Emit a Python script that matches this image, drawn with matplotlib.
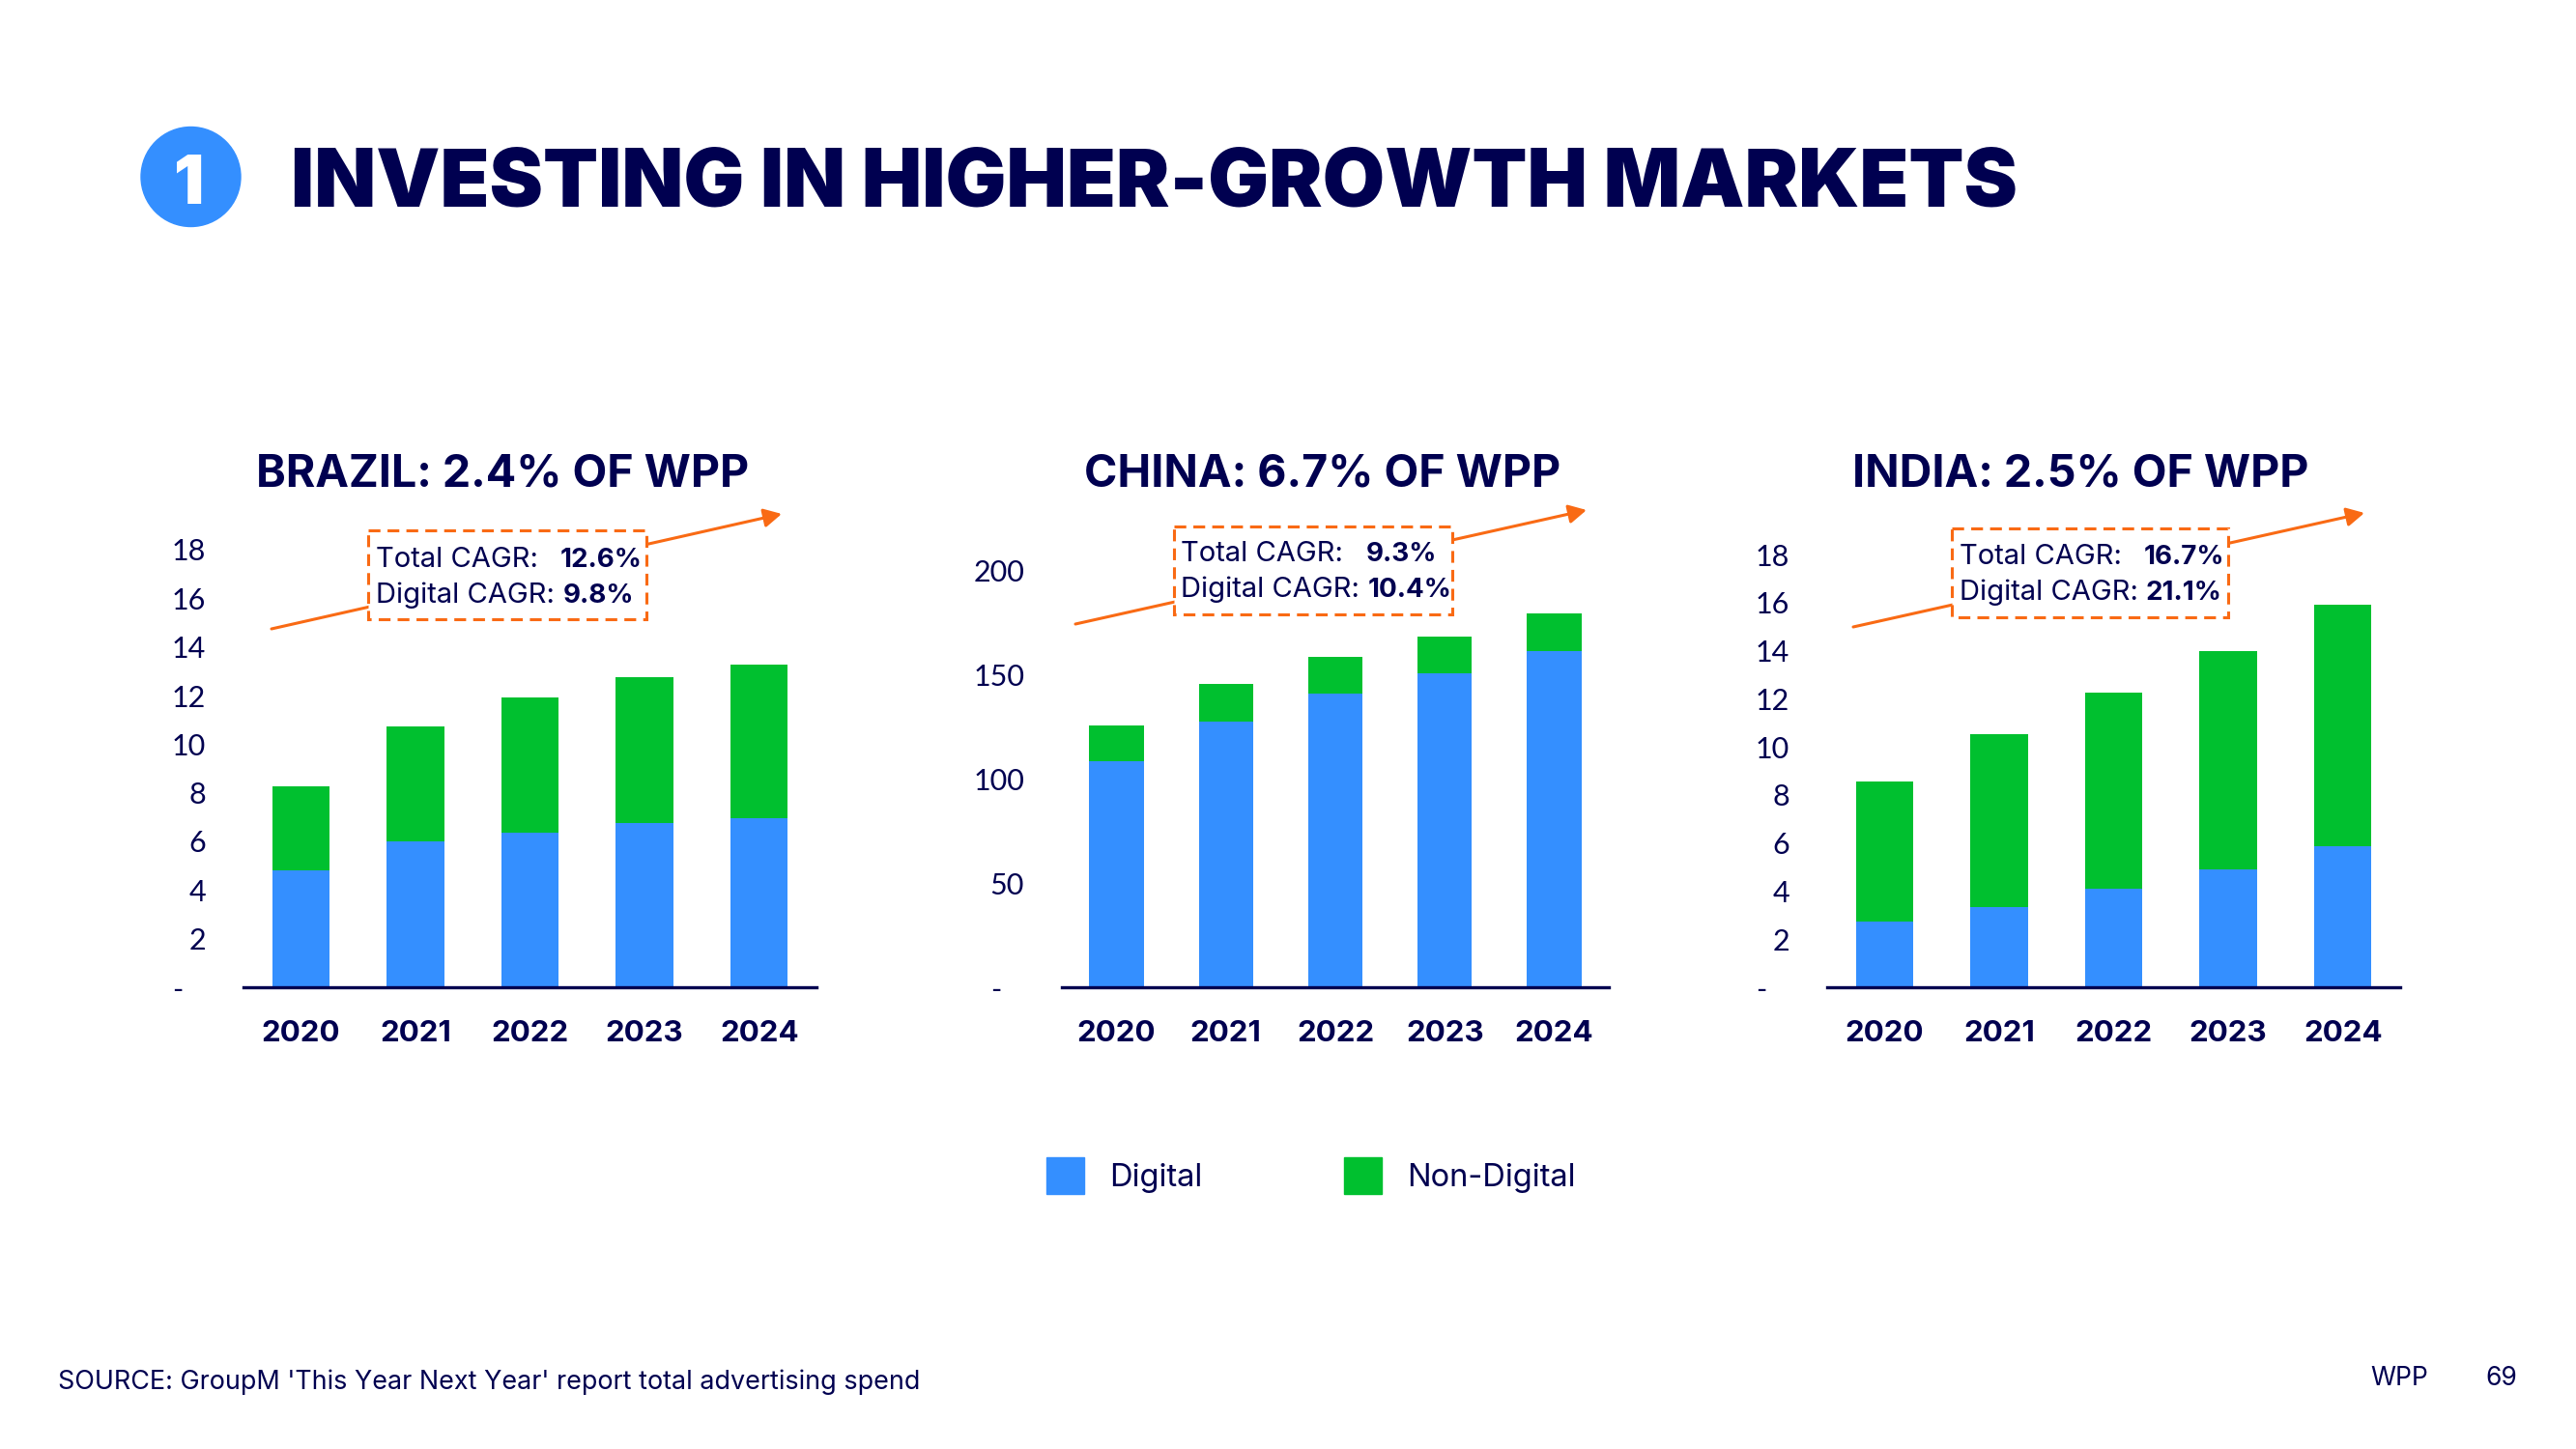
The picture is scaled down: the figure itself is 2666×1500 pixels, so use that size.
import matplotlib
matplotlib.use('Agg')
import matplotlib.pyplot as plt
from matplotlib.patches import Circle, Rectangle, Patch

plt.rcParams['font.family'] = ['Inter', 'DejaVu Sans']

NAVY = '#000050'
BLUE = '#348FFF'
GREEN = '#00C02F'
ORANGE = '#F96A14'

W, H = 2666, 1500

years = ['2020', '2021', '2022', '2023', '2024']

# values
brazil_digital = [4.8, 6.0, 6.35, 6.74, 6.97]
brazil_total = [8.26, 10.74, 11.93, 12.76, 13.28]
china_digital = [108.5, 127.8, 141, 150.6, 161.7]
china_total = [125.8, 145.6, 158.9, 168.5, 179.6]
india_digital = [2.72, 3.33, 4.08, 4.89, 5.86]
india_total = [8.55, 10.54, 12.25, 13.98, 15.93]

brazil_ticks = [0, 2, 4, 6, 8, 10, 12, 14, 16, 18]
china_ticks = [0, 50, 100, 150, 200]
india_ticks = [0, 2, 4, 6, 8, 10, 12, 14, 16, 18]

fig = plt.figure(figsize=(W / 100, H / 100), dpi=100, facecolor='white')

# overlay in pixel coordinates for slide furniture
bg = fig.add_axes([0, 0, 1, 1])
bg.set_xlim(0, W)
bg.set_ylim(H, 0)
bg.axis('off')


def make_chart(left, right, top, digital, total, ticks):
    bottom = 1022
    ax = fig.add_axes([left / W, 1 - bottom / H, (right - left) / W, (bottom - top) / H])
    x = range(len(years))
    other = [t - d for t, d in zip(total, digital)]
    ax.bar(x, digital, width=0.5, color=BLUE)
    ax.bar(x, other, width=0.5, bottom=digital, color=GREEN)
    ax.set_xlim(-0.5, 4.5)
    ax.set_ylim(0, ticks[-1])
    ax.patch.set_alpha(0)
    for s in ['top', 'left', 'right']:
        ax.spines[s].set_visible(False)
    ax.spines['bottom'].set_color(NAVY)
    ax.spines['bottom'].set_linewidth(2.4)
    ax.set_xticks(list(x), years, fontsize=22.5, fontweight='bold', color=NAVY)
    # the axis digits sit closer to Lato than Inter
    ax.set_yticks(ticks, ['-   '] + [str(t) for t in ticks[1:]], fontsize=22, color=NAVY, family=['Lato', 'DejaVu Sans'])
    ax.tick_params(axis='both', length=0)
    ax.tick_params(axis='x', pad=24.5)
    ax.tick_params(axis='y', pad=28)
    return ax


make_chart(252, 845, 569, brazil_digital, brazil_total, brazil_ticks)
make_chart(1099, 1665, 591, china_digital, china_total, china_ticks)
make_chart(1891, 2484, 574, india_digital, india_total, india_ticks)


def cagr_box(arrow, box, text_x, rows):
    bg.annotate('', xy=arrow[1], xytext=arrow[0],
                arrowprops=dict(arrowstyle='-|>,head_length=0.85,head_width=0.45', color=ORANGE,
                                lw=2.2, shrinkA=0, shrinkB=0, mutation_scale=13))
    x0, y0, x1, y1 = box
    bg.add_patch(Rectangle((x0, y0), x1 - x0, y1 - y0, facecolor='white', edgecolor=ORANGE,
                           lw=2.2, linestyle=(0, (4, 2.4)), zorder=5))
    for (label, value, bx, base) in rows:
        bg.text(text_x, base, label, fontsize=21, color=NAVY, va='baseline', zorder=6)
        bg.text(bx, base, value, fontsize=20, color=NAVY, fontweight='bold', va='baseline', zorder=6)


cagr_box(((281, 651), (809, 532)), (381, 549, 669, 641), 389,
         [('Total CAGR:', '12.6%', 580, 587), ('Digital CAGR:', '9.8%', 583, 624)])
cagr_box(((1113, 646), (1642, 528)), (1215, 545, 1503, 636), 1222,
         [('Total CAGR:', '9.3%', 1414, 581), ('Digital CAGR:', '10.4%', 1416, 618)])
cagr_box(((1918, 649), (2447, 531)), (2020, 547, 2306, 639), 2028,
         [('Total CAGR:', '16.7%', 2219, 584), ('Digital CAGR:', '21.1%', 2221, 621)])

# header
bg.add_patch(Circle((197.5, 183), 51.5, color=BLUE))
bg.text(196, 211, '1', fontsize=50, fontweight='black', color='white', ha='center', va='baseline')
bg.text(301, 214, 'INVESTING IN HIGHER-GROWTH MARKETS', fontsize=60, fontweight='black', color=NAVY, va='baseline')

# chart titles
bg.text(265, 504, 'BRAZIL: 2.4% OF WPP', fontsize=33.5, fontweight='bold', color=NAVY, va='baseline')
bg.text(1122, 504, 'CHINA: 6.7% OF WPP', fontsize=33.5, fontweight='bold', color=NAVY, va='baseline')
bg.text(1917, 504, 'INDIA: 2.5% OF WPP', fontsize=33.5, fontweight='bold', color=NAVY, va='baseline')

# legend
handles = [Patch(color=BLUE, label='Digital'), Patch(color=GREEN, label='Non-Digital')]
fig.legend(handles=handles, loc='center left', bbox_to_anchor=(1083 / W, 1 - 1217 / H), frameon=False, ncol=2,
           fontsize=23.5, labelcolor=NAVY, borderpad=0, borderaxespad=0, handlelength=1.2, handleheight=1.46,
           handletextpad=0.8, columnspacing=4.48)

# footer
bg.text(60, 1438, "SOURCE: GroupM 'This Year Next Year' report total advertising spend", fontsize=19.4, color=NAVY, va='baseline')
bg.text(2453, 1434, 'WPP', fontsize=19, color=NAVY, va='baseline')
bg.text(2572, 1434, '69', fontsize=19, color=NAVY, va='baseline')

fig.savefig('out.png', dpi=100)
